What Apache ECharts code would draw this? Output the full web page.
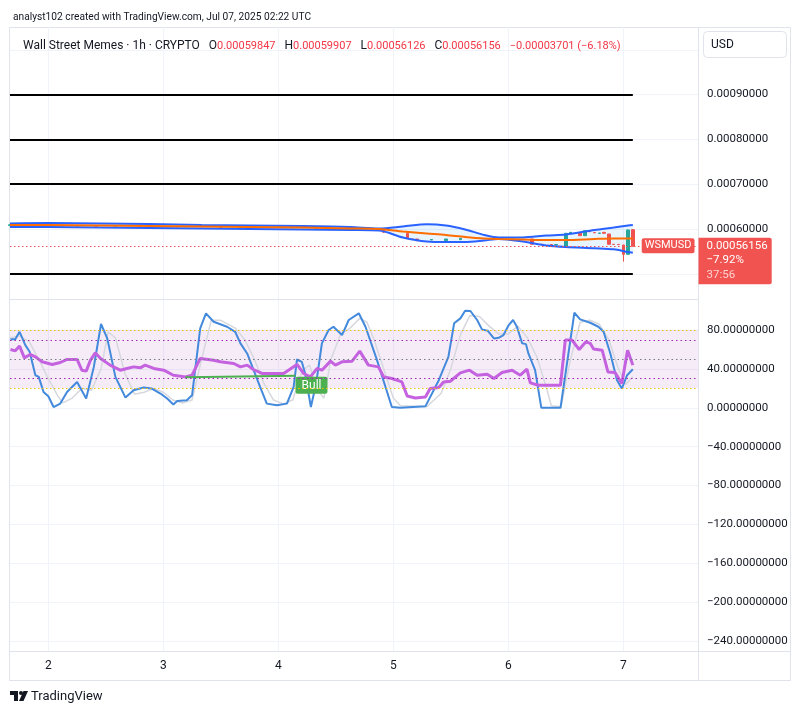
<!DOCTYPE html>
<html>
<head>
<meta charset="utf-8">
<title>Wall Street Memes / USD 1h</title>
<script src="https://cdn.jsdelivr.net/npm/echarts@6/dist/echarts.min.js"></script>
<style>
  html, body { margin: 0; padding: 0; background: #fff; }
  #main { width: 802px; height: 714px; }
</style>
</head>
<body>
<div id="main"></div>
<script>
// x = hours since Jul 1 2025 00:00 UTC, one candle per hour
const xMin = 16
const xMax = 159.6
const dayTicks = [24, 48, 72, 96, 120, 144]
const priceTicks = [0.0006, 0.0007, 0.0008, 0.0009]
const priceGrid = [0.0005, 0.0006, 0.0007, 0.0008, 0.0009, 0.001]
const oscTicks = [80, 40, 0, -40, -80, -120, -160, -200, -240]

// hand drawn black levels
const levels = [0.0009, 0.0008, 0.0007, 0.0005]
const levelFrom = 16
const levelTo = 146

// bollinger bands + orange average
const bbHours = [16, 24, 35, 45, 56, 66, 77, 87, 93, 98, 103, 107, 111, 115, 118, 123, 128, 132, 138, 142, 145, 146]
const bbUpper = [0.00061228, 0.00061339, 0.00061228, 0.00061116, 0.00060893, 0.00060781, 0.00060670, 0.00060446, 0.00060112, 0.00060558,
                 0.00061071, 0.00060781, 0.00059888, 0.00058661, 0.00058103, 0.00058103, 0.00058549, 0.00058772, 0.00059777, 0.00060335, 0.00060781, 0.00060893]
const bbMid = [0.00060893, 0.00060893, 0.00060781, 0.00060670, 0.00060558, 0.00060446, 0.00060335, 0.00060112, 0.00060000, 0.00059442,
               0.00058996, 0.00058661, 0.00058214, 0.00057879, 0.00057768, 0.00057656, 0.00057545, 0.00057545, 0.00057768, 0.00057879, 0.00057879, 0.00057879]
const bbLower = [0.00060446, 0.00060446, 0.00060335, 0.00060223, 0.00060112, 0.00060000, 0.00059888, 0.00059777, 0.00059665, 0.00058103,
                 0.00057210, 0.00057098, 0.00057098, 0.00057433, 0.00057768, 0.00057210, 0.00056317, 0.00055982, 0.00055714, 0.00055469, 0.00054866, 0.00054710]

// [hour, open, close, low, high]
const candles = [
  [16, 0.00060781, 0.00060938, 0.00060670, 0.00061004],
  [18, 0.00060938, 0.00060893, 0.00060826, 0.00061116],
  [20, 0.00060893, 0.00060982, 0.00060848, 0.00061205],
  [21, 0.00060982, 0.00060759, 0.00060737, 0.00061004],
  [24, 0.00060759, 0.00060804, 0.00060737, 0.00060826],
  [27, 0.00060804, 0.00060670, 0.00060648, 0.00060826],
  [30, 0.00060670, 0.00060781, 0.00060670, 0.00060781],
  [34, 0.00060781, 0.00060625, 0.00060625, 0.00060781],
  [38, 0.00060625, 0.00060714, 0.00060625, 0.00060714],
  [43, 0.00060714, 0.00060580, 0.00060580, 0.00060714],
  [47, 0.00060580, 0.00060670, 0.00060580, 0.00060670],
  [51, 0.00060625, 0.00060491, 0.00060491, 0.00060625],
  [56, 0.00060491, 0.00060558, 0.00060491, 0.00060558],
  [60, 0.00060558, 0.00060357, 0.00060357, 0.00060558],
  [64, 0.00060357, 0.00060446, 0.00060357, 0.00060446],
  [70, 0.00060446, 0.00060268, 0.00060268, 0.00060446],
  [75, 0.00060268, 0.00060335, 0.00060268, 0.00060335],
  [80, 0.00060335, 0.00060134, 0.00060134, 0.00060335],
  [85, 0.00060134, 0.00060201, 0.00060134, 0.00060201],
  [89, 0.00060201, 0.00059955, 0.00059955, 0.00060201],
  [94, 0.00059777, 0.00059263, 0.00059263, 0.00059777],
  [99, 0.00059040, 0.00057924, 0.00057924, 0.00059040],
  [100, 0.00057768, 0.00057656, 0.00057656, 0.00057768],
  [101, 0.00057768, 0.00057389, 0.00057389, 0.00057768],
  [104, 0.00057545, 0.00057656, 0.00057545, 0.00057656],
  [107, 0.00057389, 0.00057768, 0.00057389, 0.00057768],
  [110, 0.00057612, 0.00057924, 0.00057612, 0.00057924],
  [114, 0.00057879, 0.00057991, 0.00057879, 0.00057991],
  [117, 0.00057879, 0.00057656, 0.00057656, 0.00057879],
  [121, 0.00057701, 0.00057768, 0.00057701, 0.00057768],
  [125, 0.00057768, 0.00056585, 0.00056585, 0.00057768],
  [127, 0.00056585, 0.00056518, 0.00056518, 0.00056585],
  [129, 0.00056540, 0.00056474, 0.00056474, 0.00056540],
  [130, 0.00056429, 0.00056518, 0.00056429, 0.00056518],
  [132, 0.00056094, 0.00059040, 0.00056094, 0.00059040],
  [133, 0.00059107, 0.00059263, 0.00059107, 0.00059263],
  [135, 0.00059174, 0.00058505, 0.00058505, 0.00059174],
  [136, 0.00058505, 0.00059621, 0.00058505, 0.00059621],
  [137, 0.00059621, 0.00059397, 0.00059397, 0.00059621],
  [138, 0.00059196, 0.00059152, 0.00059152, 0.00059196],
  [139, 0.00059040, 0.00059107, 0.00059040, 0.00059107],
  [140, 0.00059263, 0.00059040, 0.00059040, 0.00059263],
  [141, 0.00058884, 0.00056585, 0.00056585, 0.00058884],
  [142, 0.00056585, 0.00056563, 0.00056563, 0.00056585],
  [143, 0.00056563, 0.00056518, 0.00056518, 0.00056563],
  [144, 0.00056429, 0.00054353, 0.00052701, 0.00056429],
  [145, 0.00054353, 0.00059777, 0.00054353, 0.00059888],
  [146, 0.00059847, 0.00056156, 0.00056126, 0.00059907]
]
const lastClose = 0.00056156

// stoch rsi K (blue) and D (grey), rsi (purple)
const stochK = [
  [16.1, 70.4], [17.1, 70.4], [18, 78.2], [19.2, 64.5], [20.1, 57.6], [21.3, 33.5], [22, 31.8], [23, 16.3], [24, 11.9], [25.1, 0.8],
  [26.5, 4.3], [27.9, 16.3], [30, 26.6], [31.9, 9.5], [33.5, 42.1], [35, 86.2], [36.3, 71.4], [38, 31.8], [40.1, 10.5], [41.8, 18.1],
  [43.9, 20.8], [45.6, 19.8], [47.4, 14.7], [48.8, 9.5], [50.1, 3.3], [50.9, 7], [52.9, 7.7], [54, 12.9], [55.7, 81.7], [56.9, 97.2],
  [58.5, 88.5], [61.3, 83.4], [63, 78.2], [64.1, 66.3], [65.5, 55.9], [68.2, 21.5], [69.6, 4.3], [71.7, 2.6], [73.8, 4.3], [75.2, 21.5],
  [75.9, 49.7], [76.9, 47.3], [77.6, 35.3], [78.8, 0.8], [79.9, 25], [81.1, 66.3], [82.5, 80], [83.5, 83.4], [85.3, 74.8], [86.7, 90.3],
  [88.8, 97.2], [90.2, 83.4], [92.6, 49], [95.7, 0.8], [97.5, 0], [102.7, 1.5], [105.5, 28.4], [107.5, 52.4], [108.7, 86.9], [110, 92],
  [111, 99.9], [112.1, 99.6], [113.5, 90.3], [114.5, 80.7], [115.7, 79.3], [117, 71.4], [118, 72], [119, 74.8], [120.1, 85.1], [121, 90.3],
  [121.8, 83.4], [122.9, 66.3], [123.7, 65.5], [124.2, 55.9], [125.6, 38.7], [126.9, 0], [130.9, 0], [133.8, 97.8], [135, 91], [137.1, 87.5],
  [138.8, 83.4], [139.9, 78.2], [141.3, 55.9], [142.7, 28.4], [143.7, 19.8], [144.8, 33.5], [146, 39.7]
]
const stochD = [
  [16, 72], [18, 74], [20, 68], [22, 50], [24, 30], [26, 12], [27, 5], [29, 10], [31, 20], [33, 18], [35, 40], [36.5, 78], [38, 72],
  [40, 35], [42, 14], [44, 16], [46, 20], [48, 16], [50, 8], [52, 5], [54, 8], [56, 50], [58, 90], [60, 90], [63, 82], [65, 70], [67, 50],
  [69, 25], [71, 8], [73, 4], [75, 8], [77, 38], [78.5, 44], [80, 20], [81.5, 10], [83, 50], [85, 76], [87, 82], [89, 92], [90.5, 88],
  [92, 70], [94, 40], [96, 10], [97.5, 2], [103, 1], [106, 15], [108, 40], [110, 75], [112, 95], [114, 94], [116, 84], [118, 76], [120, 76],
  [122, 84], [124, 72], [126, 52], [128, 20], [129, 2], [131, 1], [133, 50], [135, 88], [137, 90], [139, 86], [141, 70], [143, 40],
  [144.5, 24], [146, 32]
]
const rsi = [
  [16.1, 60], [17.1, 58.6], [18, 63.5], [19, 51.4], [20.2, 54.9], [21.3, 52.4], [22.7, 47.3], [24.8, 44.6], [26.5, 46.6], [27.9, 49.7],
  [30, 49.7], [31, 38.7], [31.9, 37.7], [32.8, 49], [33.8, 56.6], [34.9, 50.8], [36.9, 43.9], [39, 38.7], [40.4, 40.5], [41.8, 42.1],
  [43.2, 41.1], [44.2, 43.9], [46, 40.5], [48.1, 38.7], [50.1, 33.5], [52.6, 31.8], [54, 33.5], [55.7, 50.8], [58.5, 49], [59.9, 47.3],
  [62.7, 45.6], [64.1, 42.1], [65.5, 43.9], [66.8, 39.4], [68.6, 35.3], [70.3, 35.3], [73.1, 35.3], [75.9, 44.6], [77.3, 35.3], [78.7, 31.8],
  [80.1, 40.5], [81.1, 38.7], [82.9, 48], [83.9, 43.9], [85.3, 47.3], [87.4, 48], [89, 58.3], [90.8, 43.9], [92.9, 42.1], [94, 31.8],
  [95.7, 30.1], [97.8, 26.6], [98.9, 12.2], [100.6, 10.1], [102.7, 11.1], [103.7, 19.8], [105.5, 20.8], [106.5, 26.6], [107.9, 27.3], [110, 35.9],
  [111.9, 38.7], [113.5, 33.5], [115.6, 34.6], [117, 30.1], [118.7, 36.3], [120.8, 38.7], [122.5, 33.5], [123.9, 39.7], [124.6, 25.6], [126.3, 23.2],
  [130.9, 23.2], [131.9, 69.7], [133.3, 69.7], [134.8, 60], [136.2, 67.9], [137.1, 66.3], [137.8, 60.4], [139.6, 59.3], [140.8, 36.9], [142.3, 36.3],
  [143.7, 25], [144.9, 59.3], [146, 43.9]
]
const bullLine = [[52.6, 31.5], [75.6, 33]]

const font = 'Roboto, "Liberation Sans", sans-serif'
const txt = '#131722'
const gridCol = '#f0f3fa'
const border = '#e0e3eb'
const up = '#26a69a'
const down = '#ef5350'

function minus(s) { return s.replace('-', '\u2212') }

let chart = echarts.init(document.getElementById('main'))

chart.setOption({
  animation: false,
  textStyle: { fontFamily: font },
  title: [
    {
      text: 'analyst102 created with TradingView.com, Jul 07, 2025 02:22 UTC',
      left: 8, top: 7,
      textStyle: { fontSize: 10.2, fontWeight: 'normal', color: txt, fontFamily: font }
    },
    {
      text: 'Wall Street Memes · 1h · CRYPTO   O{r|0.00059847}   H{r|0.00059907}   L{r|0.00056126}   C{r|0.00056156}   {r|\u22120.00003701 (\u22126.18%)}',
      left: 18, top: 35,
      textStyle: {
        fontSize: 12, fontWeight: 'normal', color: txt, fontFamily: font,
        rich: { r: { color: '#f23645', fontSize: 11, fontFamily: font } }
      }
    }
  ],
  grid: [
    { left: 10, right: 104, top: 27, height: 272 },
    { left: 10, right: 104, top: 300, height: 351 }
  ],
  xAxis: [
    {
      gridIndex: 0, type: 'value', min: xMin, max: xMax,
      axisLine: { show: false },
      axisTick: { show: false, customValues: dayTicks },
      axisLabel: { show: false, customValues: dayTicks },
      splitLine: { show: true, lineStyle: { color: gridCol } }
    },
    {
      gridIndex: 1, type: 'value', min: xMin, max: xMax,
      axisLine: { show: false },
      axisTick: { show: false, customValues: dayTicks },
      axisLabel: {
        customValues: dayTicks, color: txt, fontSize: 12, margin: 9,
        formatter: v => String(v / 24 + 1)
      },
      splitLine: { show: true, lineStyle: { color: gridCol } }
    }
  ],
  yAxis: [
    {
      gridIndex: 0, type: 'value', position: 'right',
      min: 0.00044375, max: 0.00105089,
      axisLine: { show: false },
      axisTick: { show: false, customValues: priceGrid },
      axisLabel: {
        customValues: priceTicks, color: txt, fontSize: 11.5, margin: 9,
        formatter: v => v.toFixed(8)
      },
      splitLine: { show: true, lineStyle: { color: gridCol } }
    },
    {
      gridIndex: 1, type: 'value', position: 'right',
      min: -250.2, max: 110.9,
      axisLine: { show: false },
      axisTick: { show: false, customValues: oscTicks },
      axisLabel: {
        customValues: oscTicks, color: txt, fontSize: 11.5, margin: 9,
        formatter: v => minus(v.toFixed(8))
      },
      splitLine: { show: true, lineStyle: { color: gridCol } }
    }
  ],
  series: [
    // band fill between upper and lower
    {
      type: 'custom', xAxisIndex: 0, yAxisIndex: 0, silent: true,
      data: [[bbHours[0], bbMid[0]]],
      renderItem: (params, api) => {
        let top = bbHours.map((h, i) => api.coord([h, bbUpper[i]]))
        let bottom = bbHours.map((h, i) => api.coord([h, bbLower[i]])).reverse()
        return {
          type: 'polygon',
          shape: { points: top.concat(bottom), smooth: 0.3 },
          style: { fill: 'rgba(33, 150, 243, 0.1)' }
        }
      }
    },
    // black levels
    {
      type: 'line', xAxisIndex: 0, yAxisIndex: 0, data: [], silent: true,
      markLine: {
        symbol: 'none', silent: true, label: { show: false },
        lineStyle: { color: '#000', type: 'solid', width: 2 },
        data: levels.map(v => [{ coord: [levelFrom, v] }, { coord: [levelTo, v] }])
      }
    },
    // last price dotted line
    {
      type: 'line', xAxisIndex: 0, yAxisIndex: 0, data: [], silent: true,
      markLine: {
        symbol: 'none', silent: true, label: { show: false }, precision: 8,
        lineStyle: { color: down, type: [1.5, 2.5], width: 1 },
        data: [[{ coord: [xMin, lastClose] }, { coord: [xMax, lastClose] }]]
      }
    },
    {
      type: 'line', xAxisIndex: 0, yAxisIndex: 0, smooth: 0.3, symbol: 'none',
      data: bbHours.map((h, i) => [h, bbUpper[i]]),
      lineStyle: { color: '#2962ff', width: 2 }
    },
    {
      type: 'line', xAxisIndex: 0, yAxisIndex: 0, smooth: 0.3, symbol: 'none',
      data: bbHours.map((h, i) => [h, bbLower[i]]),
      lineStyle: { color: '#2962ff', width: 2 }
    },
    {
      type: 'line', xAxisIndex: 0, yAxisIndex: 0, smooth: 0.3, symbol: 'none',
      data: bbHours.map((h, i) => [h, bbMid[i]]),
      lineStyle: { color: '#ff6d00', width: 2 }
    },
    {
      type: 'candlestick', xAxisIndex: 0, yAxisIndex: 0,
      data: candles, encode: { x: 0, y: [1, 2, 3, 4] },
      barWidth: 3,
      itemStyle: { color: up, color0: down, borderColor: up, borderColor0: down, borderWidth: 1 }
    },
    // last price tags
    {
      type: 'line', xAxisIndex: 0, yAxisIndex: 0, data: [], silent: true,
      markPoint: {
        silent: true, symbol: 'rect', symbolSize: 1, itemStyle: { color: 'rgba(0,0,0,0)' },
        data: [
          {
            coord: [xMax, lastClose],
            label: {
              show: true, position: [-3, 0], formatter: 'WSMUSD', align: 'right', verticalAlign: 'middle',
              color: '#fff', fontSize: 11, backgroundColor: '#f05350', padding: [2, 3, 2, 3], borderRadius: 2
            }
          },
          {
            coord: [xMax, lastClose],
            label: {
              show: true, position: [1, -8], formatter: '0.00056156\n\u22127.92%\n{t|37:56}', align: 'left', verticalAlign: 'top',
              color: '#fff', fontSize: 11.5, lineHeight: 14.5, backgroundColor: '#f05350',
              padding: [1, 4, 2, 8], borderRadius: [0, 2, 2, 0],
              rich: { t: { color: '#fcd0cf', fontSize: 11.5, lineHeight: 14.5 } }
            }
          }
        ]
      }
    },
    // oscillator pane
    {
      type: 'line', xAxisIndex: 1, yAxisIndex: 1, data: [], silent: true,
      markArea: {
        silent: true, itemStyle: { color: 'rgba(156, 39, 176, 0.09)' },
        data: [[{ yAxis: 80 }, { yAxis: 20 }]]
      },
      markLine: {
        symbol: 'none', silent: true, label: { show: false },
        data: [
          { yAxis: 80, lineStyle: { color: '#e8c000', type: [1.5, 2.5], width: 1 } },
          { yAxis: 20, lineStyle: { color: '#e8c000', type: [1.5, 2.5], width: 1 } },
          { yAxis: 70, lineStyle: { color: '#9c27b0', type: [1.5, 3], width: 1 } },
          { yAxis: 30, lineStyle: { color: '#9c27b0', type: [1.5, 3], width: 1 } },
          { yAxis: 50, lineStyle: { color: '#787b86', type: [1.5, 3], width: 1 } }
        ]
      }
    },
    {
      type: 'line', xAxisIndex: 1, yAxisIndex: 1, data: stochD, symbol: 'none',
      lineStyle: { color: '#d6d8de', width: 1.5 }
    },
    {
      type: 'line', xAxisIndex: 1, yAxisIndex: 1, data: stochK, symbol: 'none',
      lineStyle: { color: '#4389dc', width: 2 }
    },
    {
      type: 'line', xAxisIndex: 1, yAxisIndex: 1, data: rsi, symbol: 'none',
      lineStyle: { color: '#c462df', width: 3 }
    },
    {
      type: 'line', xAxisIndex: 1, yAxisIndex: 1, symbolSize: 0, showSymbol: true,
      data: [
        { value: bullLine[0] },
        {
          value: bullLine[1],
          label: {
            show: true, position: [0, 1], formatter: 'Bull', align: 'left', verticalAlign: 'top',
            color: '#fff', fontSize: 12, backgroundColor: '#4caf50', padding: [3, 6, 2, 6], borderRadius: 2
          }
        }
      ],
      lineStyle: { color: '#4caf50', width: 2 }
    }
  ],
  graphic: [
    { type: 'rect', shape: { x: 9.5, y: 27.5, width: 781, height: 653 }, style: { fill: 'none', stroke: border }, silent: true },
    { type: 'line', shape: { x1: 698.5, y1: 27, x2: 698.5, y2: 681 }, style: { stroke: border }, silent: true },
    { type: 'line', shape: { x1: 9, y1: 651.5, x2: 791, y2: 651.5 }, style: { stroke: border }, silent: true },
    { type: 'line', shape: { x1: 9, y1: 299.5, x2: 698, y2: 299.5 }, style: { stroke: border }, silent: true },
    { type: 'rect', shape: { x: 703.5, y: 31.5, width: 83, height: 26, r: 4 }, style: { fill: '#fff', stroke: border }, silent: true },
    { type: 'text', x: 711, y: 44.5, style: { text: 'USD', fill: txt, font: '12px ' + font, verticalAlign: 'middle' }, silent: true },
    // TradingView logo
    { type: 'rect', shape: { x: 10, y: 691, width: 8, height: 4 }, style: { fill: txt }, silent: true },
    { type: 'rect', shape: { x: 14, y: 691, width: 4, height: 10 }, style: { fill: txt }, silent: true },
    { type: 'circle', shape: { cx: 21, cy: 693, r: 2 }, style: { fill: txt }, silent: true },
    { type: 'polygon', shape: { points: [[23.5, 691], [28, 691], [23.5, 701], [19, 701]] }, style: { fill: txt }, silent: true },
    { type: 'text', x: 31, y: 696.5, style: { text: 'TradingView', fill: txt, font: '13px ' + font, verticalAlign: 'middle' }, silent: true }
  ]
})
</script>
</body>
</html>
